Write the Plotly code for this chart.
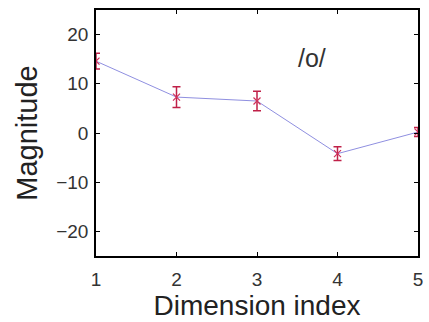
import plotly.graph_objects as go

dims = [1, 2, 3, 4, 5]
magnitude = [14.6, 7.3, 6.5, -4.2, 0.2]
err = [1.6, 2.1, 2.0, 1.4, 0.9]
x_ticks = [1, 2, 3, 4, 5]
y_ticks = [-20, -10, 0, 10, 20]
y_tick_text = ["\u221220", "\u221210", "0", "10", "20"]

FONT = "Liberation Sans, Arial"

fig = go.Figure()
fig.add_trace(go.Scatter(
    x=dims, y=magnitude, mode="lines",
    line=dict(color="#8f8fe0", width=1),
    showlegend=False, hoverinfo="skip"))
fig.add_trace(go.Scatter(
    x=dims, y=magnitude, mode="markers",
    marker=dict(symbol="x-thin", size=7, color="#d0305a", line=dict(color="#d0305a", width=1.2)),
    error_y=dict(type="data", array=err, color="#c02048", thickness=1.5, width=4),
    showlegend=False))

fig.add_annotation(x=3.68, y=15.2, text="/o/", showarrow=False,
                   font=dict(family=FONT, size=25, color="#333"))

axis_common = dict(showline=True, linecolor="black", linewidth=1.5, mirror="ticks",
                   ticks="inside", ticklen=4, tickcolor="black", showgrid=False, zeroline=False,
                   tickfont=dict(family=FONT, size=19, color="#333"))
fig.update_xaxes(range=[1, 5], tickvals=x_ticks, ticklabelstandoff=5,
                 title=dict(text="Dimension index", font=dict(family=FONT, size=28, color="#222"), standoff=7),
                 **axis_common)
fig.update_yaxes(range=[-25, 25], tickvals=y_ticks, ticktext=y_tick_text, ticklabelstandoff=2,
                 title=dict(text="Magnitude", font=dict(family=FONT, size=29, color="#222"), standoff=10),
                 **axis_common)
fig.update_layout(width=429, height=322, margin=dict(l=96, r=6, t=10, b=64),
                  plot_bgcolor="white", paper_bgcolor="white")
fig.write_html("out.html")
